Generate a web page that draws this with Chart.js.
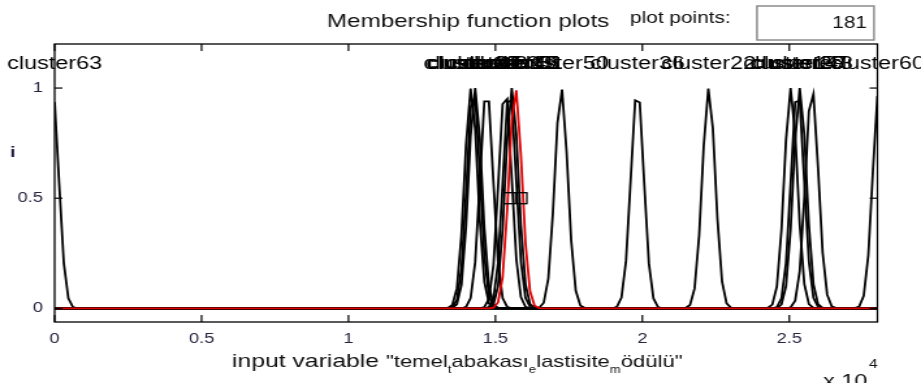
<!DOCTYPE html>
<html>
<head>
<meta charset="utf-8">
<script src="https://cdn.jsdelivr.net/npm/chart.js@4.4.0/dist/chart.umd.min.js"></script>
<style>
  html, body { margin: 0; padding: 0; background: #fff; overflow: hidden; }
  #c { display: block; width: 921px; height: 383px; }
</style>
</head>
<body>
<canvas id="c" width="708" height="383" style="width:921px;height:383px;display:block"></canvas>
<script>
// ---------- data (x in units of 10^4) ----------
const plotPoints = 181;
const xRange = [0, 2.8];
const yRange = [-0.062, 1.2];
const mfSigma = 0.022;
const mfCenters = [-0.008, 1.417, 1.425, 1.431, 1.470, 1.533, 1.548, 1.556, 1.568, 1.724, 1.983, 2.226, 2.505, 2.528, 2.536, 2.577, 2.806];
const mfNames = ['cluster63', 'cluster12', 'cluster27', 'cluster41', 'cluster8', 'cluster33', 'cluster19', 'cluster45', 'cluster51', 'cluster50', 'cluster36', 'cluster22', 'cluster14', 'cluster29', 'cluster57', 'cluster3', 'cluster60'];
const selectedMf = 8;
const xTickValues = [0, 0.5, 1, 1.5, 2, 2.5];
const xTickLabels = ['0', '0.5', '1', '1.5', '2', '2.5'];
const yTickValues = [0, 0.5, 1];
const yTickLabels = ['0', '0.5', '1'];
const labelLevel = 1.11;

// ---------- build datasets ----------
const S = 921 / 708; // horizontal stretch of the canvas
const grid = [];
for (let i = 0; i < plotPoints; i++) grid.push(xRange[0] + (xRange[1] - xRange[0]) * i / (plotPoints - 1));

const datasets = mfCenters.map((c, i) => ({
  label: mfNames[i],
  data: grid.map(x => ({ x: x, y: Math.exp(-((x - c) * (x - c)) / (2 * mfSigma * mfSigma)) })),
  borderColor: i === selectedMf ? '#e00000' : '#000000',
  borderWidth: 1.8,
  pointRadius: 0,
  tension: 0,
  fill: false,
  order: i === selectedMf ? 0 : 1
}));

const FONT = '"Liberation Sans", Arial, sans-serif';

const decor = {
  id: 'decor',
  afterDraw(chart) {
    const { ctx, chartArea: a, scales: { x, y } } = chart;
    ctx.save();
    // frame
    ctx.strokeStyle = '#000';
    ctx.lineWidth = 1.3;
    ctx.strokeRect(a.left, a.top, a.right - a.left, a.bottom - a.top);
    const seg = (x1, y1, x2, y2) => { ctx.beginPath(); ctx.moveTo(x1, y1); ctx.lineTo(x2, y2); ctx.stroke(); };
    ctx.lineWidth = 1.2;
    xTickValues.forEach(v => {
      const px = x.getPixelForValue(v);
      seg(px, a.bottom, px, a.bottom - 7);
      seg(px, a.top, px, a.top + 7);
    });
    yTickValues.forEach(v => {
      const py = y.getPixelForValue(v);
      seg(a.left, py, a.left + 6, py);
      seg(a.right, py, a.right - 6, py);
    });

    // selected-MF marker box
    const sc = mfCenters[selectedMf];
    const bx1 = x.getPixelForValue(sc - 0.039), bx2 = x.getPixelForValue(sc + 0.039);
    const by1 = y.getPixelForValue(0.525), by2 = y.getPixelForValue(0.475);
    ctx.lineWidth = 1.3;
    ctx.strokeRect(bx1, by1, bx2 - bx1, by2 - by1);
    seg((bx1 + bx2) / 2, by1, (bx1 + bx2) / 2, by2);

    // MF name labels
    ctx.fillStyle = '#000';
    ctx.font = '18px ' + FONT;
    ctx.textAlign = 'center';
    ctx.textBaseline = 'middle';
    mfCenters.forEach((c, i) => {
      const cx = Math.max(xRange[0], Math.min(xRange[1], c));
      ctx.fillText(mfNames[i], x.getPixelForValue(cx), y.getPixelForValue(labelLevel));
    });

    // title
    ctx.textBaseline = 'alphabetic';
    ctx.textAlign = 'left';
    ctx.fillStyle = '#111';
    ctx.font = '18.6px ' + FONT;
    ctx.fillText('Membership function plots', 327 / S, 27);
    ctx.font = '16px ' + FONT;
    ctx.fillText('plot points:', 630 / S, 23);

    // plot points box
    ctx.strokeStyle = '#8c8c8c';
    ctx.lineWidth = 1.5;
    ctx.strokeRect(757 / S, 6, (874 - 757) / S, 34);
    ctx.fillStyle = '#111';
    ctx.textAlign = 'right';
    ctx.fillText(String(plotPoints), 867 / S, 28);

    // y label fragment
    ctx.textAlign = 'left';
    ctx.fillStyle = '#1a1a40';
    ctx.font = 'bold 15px ' + FONT;
    ctx.fillText('i', 10 / S, 157);

    // x axis title with TeX-like subscripts
    const parts = [['input variable ', 0, 19], ['"temel', 0, 17], ['t', 1, 10], ['abakası', 0, 17], ['e', 1, 10], ['lastisite', 0, 17], ['m', 1, 10], ['ödülü"', 0, 17]];
    let xx = 232 / S;
    const base = 367;
    ctx.fillStyle = '#111';
    parts.forEach(([t, sub, fs]) => {
      ctx.font = fs + 'px ' + FONT;
      ctx.fillText(t, xx, sub ? base + 6 : base);
      xx += ctx.measureText(t).width;
    });

    // exponent
    ctx.font = '18px ' + FONT;
    ctx.fillText('x 10', 823 / S, 387);
    ctx.font = '12px ' + FONT;
    ctx.fillText('4', 869 / S, 368);
    ctx.restore();
  }
};

new Chart(document.getElementById('c'), {
  type: 'line',
  data: { datasets: datasets },
  options: {
    responsive: false,
    animation: false,
    devicePixelRatio: 1,
    layout: { autoPadding: false, padding: { left: 0, right: 708 - 674.5, top: 44, bottom: 0 } },
    plugins: { legend: { display: false }, tooltip: { enabled: false } },
    elements: { line: { borderCapStyle: 'butt' } },
    scales: {
      x: {
        type: 'linear',
        min: xRange[0],
        max: xRange[1],
        border: { display: false },
        grid: { display: false, drawTicks: false },
        afterBuildTicks: s => { s.ticks = xTickValues.map(v => ({ value: v })); },
        afterFit: s => { s.height = 383 - 322; },
        ticks: {
          padding: 9,
          maxRotation: 0,
          autoSkip: false,
          color: '#2b2440',
          font: { family: '"Liberation Sans", Arial, sans-serif', size: 14 },
          callback: (v) => { const i = xTickValues.indexOf(v); return i >= 0 ? xTickLabels[i] : ''; }
        }
      },
      y: {
        type: 'linear',
        min: yRange[0],
        max: yRange[1],
        border: { display: false },
        grid: { display: false, drawTicks: false },
        afterBuildTicks: s => { s.ticks = yTickValues.map(v => ({ value: v })); },
        afterFit: s => { s.width = 42; },
        ticks: {
          padding: 9,
          color: '#2b2440',
          font: { family: '"Liberation Sans", Arial, sans-serif', size: 14 },
          callback: (v) => { const i = yTickValues.indexOf(v); return i >= 0 ? yTickLabels[i] : ''; }
        }
      }
    }
  },
  plugins: [decor]
});
</script>
</body>
</html>
